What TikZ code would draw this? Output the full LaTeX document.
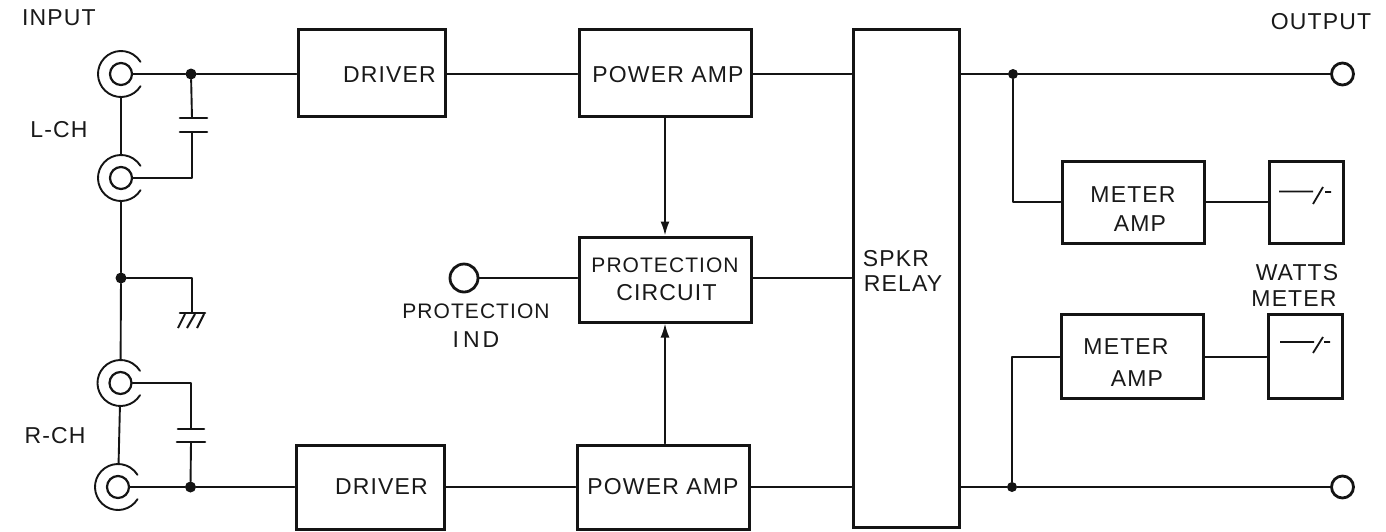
\documentclass[tikz,border=0pt]{standalone}
\usepackage{fontspec}
\setmainfont{Liberation Sans}[LetterSpace=5]
\usetikzlibrary{arrows.meta}
\tikzset{
 wire/.style={line width=1.9pt,line cap=round,line join=round,black!92},
 boxn/.style={draw=black!92,line width=3pt,rectangle,align=center,inner sep=0pt,font=\fontsize{23}{31}\selectfont,text=black!90},
 lab/.style={inner sep=0pt,align=center,font=\fontsize{23}{29}\selectfont,text=black!90},
 dotn/.style={circle,fill=black!92,inner sep=0pt,minimum size=11pt},
 jackin/.style={circle,draw=black!92,line width=2.2pt,inner sep=0pt,minimum size=22pt},
 jackout/.style={circle,inner sep=0pt,minimum size=46pt},
 term/.style={circle,draw=black!92,line width=2.8pt,inner sep=0pt,fill=white},
 arrowed/.style={wire,-{Latex[length=14pt,width=9pt]}},
 plate/.style={line width=2.6pt,line cap=round,black!92},
 sym/.style={line width=1.8pt,black!92},
}
\newcommand{\onel}[2]{\raisebox{\dimexpr-#1pt-8.25pt}[0pt][0pt]{#2}}
\newcommand{\twol}[2]{\raisebox{\dimexpr-#1pt-5.75pt}[0pt][0pt]{\begin{tabular}{@{}c@{}}#2\end{tabular}}}
\newcommand{\outerarc}[2]{\draw[wire] (#1,#2)+(32:23) arc[start angle=32,end angle=328,x radius=23pt,y radius=-23pt];}
\begin{document}
\begin{tikzpicture}[x=1pt,y=-1pt]
\useasboundingbox (0,0) rectangle (1386,531);
\fill[white] (0,0) rectangle (1386,531);
% boxes
\node[boxn,minimum width=147pt,minimum height=87pt] (d1) at (371.5,72.5) {\onel{2}{\hspace*{36pt}DRIVER}};
\node[boxn,minimum width=172pt,minimum height=87pt] (p1) at (665,72.5) {\onel{2}{\hspace*{6pt}POWER AMP}};
\node[boxn,minimum width=172pt,minimum height=85pt] (pc) at (665,279.5) {\twol{1.5}{{\fontsize{21}{31}\selectfont PROTECTION}\\[-3pt]\hspace*{3pt}CIRCUIT}};
\node[boxn,minimum width=148pt,minimum height=84pt] (d2) at (370,487) {\onel{-1}{\hspace*{23pt}DRIVER}};
\node[boxn,minimum width=172pt,minimum height=84pt] (p2) at (663,487) {\onel{-1}{POWER AMP}};
\node[boxn,minimum width=106pt,minimum height=498pt] (relay) at (906,278) {\twol{-4.5}{SPKR\hspace*{20pt}\\[-6pt]RELAY\hspace*{6pt}}};
\node[boxn,minimum width=142pt,minimum height=82pt] (m1) at (1133,202) {\twol{9.5}{METER\\[-2pt]\hspace*{14pt}AMP}};
\node[boxn,minimum width=74pt,minimum height=82pt] (s1) at (1306,202) {};
\node[boxn,minimum width=142pt,minimum height=84pt] (m2) at (1132,356) {\twol{9}{METER\hspace*{12pt}\\[1pt]\hspace*{10pt}AMP}};
\node[boxn,minimum width=74pt,minimum height=84pt] (s2) at (1305,356) {};
% jacks
\node[jackin] (j1) at (121,74) {}; \node[jackout] (j1o) at (121,74) {};
\node[jackin] (j2) at (121,178) {}; \node[jackout] (j2o) at (121,178) {};
\node[jackin] (j3) at (120.5,383) {}; \node[jackout] (j3o) at (120.5,383) {};
\node[jackin] (j4) at (118,487) {}; \node[jackout] (j4o) at (118,487) {};
\outerarc{121}{74}\outerarc{121}{178}\outerarc{120.5}{383}\outerarc{118}{487}
% dots
\node[dotn] (n1) at (191,74) {};
\node[dotn] (n2) at (121,278) {};
\node[dotn] (n3) at (190.5,487) {};
\node[dotn,minimum size=10pt] (n4) at (1013,74) {};
\node[dotn,minimum size=10pt] (n5) at (1012,487) {};
% terminals
\node[term,minimum size=22pt] (o1) at (1342.5,74) {};
\node[term,minimum size=22pt] (o2) at (1342.5,487) {};
\node[term,minimum size=28pt] (ind) at (464,278) {};
% helper coordinates
\coordinate (c1t) at (192,118); \coordinate (c1b) at (192,132); \coordinate (c1c) at (192,178);
\coordinate (c2t) at (191,429); \coordinate (c2b) at (191,442); \coordinate (c2c) at (191,383);
\coordinate (g) at (192,313); \coordinate (g0) at (192,278);
\coordinate (m1c) at (1013,202); \coordinate (m2c) at (1012,357);
% wires
\draw[wire] (j1o) -- (j2o);
\draw[wire] (j2o) -- (n2);
\draw[wire] (n2) -- (j3o);
\draw[wire] (j3o) -- (j4o);
\draw[wire] (j1) -- (n1);
\draw[wire] (n1) -- (d1.west |- n1);
\draw[wire] (d1.east |- n4) -- (p1.west |- n4);
\draw[wire] (p1.east |- n4) -- (relay.west |- n4);
\draw[wire] (relay.east |- n4) -- (n4);
\draw[wire] (n4) -- (o1);
\draw[wire] (n1) -- (c1t);
\draw[wire] (c1b) -- (c1c) -- (j2);
\draw[wire] (n2) -- (g0) -- (g);
\draw[wire] (j3) -- (c2c) -- (c2t);
\draw[wire] (c2b) -- (n3);
\draw[wire] (j4) -- (n3);
\draw[wire] (n3) -- (d2);
\draw[wire] (d2) -- (p2);
\draw[wire] (p2.east) -- (p2.east -| relay.west);
\draw[wire] (relay.east |- n5) -- (n5);
\draw[wire] (n5) -- (o2);
\draw[wire] (n4) -- (m1c) -- (m1.west |- m1c);
\draw[wire] (n5) -- (m2c) -- (m2.west |- m2c);
\draw[wire] (m1.east |- m1c) -- (s1.west |- m1c);
\draw[wire] (m2.east |- m2c) -- (s2.west |- m2c);
\draw[wire] (ind) -- (ind -| pc.west);
\draw[wire] (pc.east |- ind) -- (relay.west |- ind);
\draw[arrowed] (p1.south) -- (pc.north);
\draw[arrowed] (p2.north -| pc.south) -- (pc.south);
% capacitors
\draw[plate] (180,118) -- (207,118) (180,132) -- (207,132);
\draw[plate] (178,429) -- (204,429) (177,442) -- (205,442);
% ground
\draw[plate] (180,313) -- (205,313);
\draw[sym,line width=2pt] (185,314) -- (178,328) (195,314) -- (187,328) (204,314) -- (197,328);
% meter symbols
\draw[sym] (1279,191.5) -- (1313,191.5) (1313,204) -- (1323,187) (1325,192) -- (1331,192);
\draw[sym] (1280,342) -- (1314,342) (1313,353) -- (1323,337) (1324,342) -- (1330,342);
% labels
\node[lab] (tinput) at (59,18) {INPUT};
\node[lab] (toutput) at (1321,22) {OUTPUT};
\node[lab] (tl) at (59,130) {L-CH};
\node[lab] (tr) at (55,436) {R-CH};
\node[lab] (tind) at (476,325.5) {{\fontsize{21}{29}\selectfont PROTECTION}\\I\hspace{4pt}N\hspace{3pt}D};
\node[lab] (twm) at (1297,285) {WATTS\\[-3pt]METER\hspace*{6pt}};
\end{tikzpicture}
\end{document}
